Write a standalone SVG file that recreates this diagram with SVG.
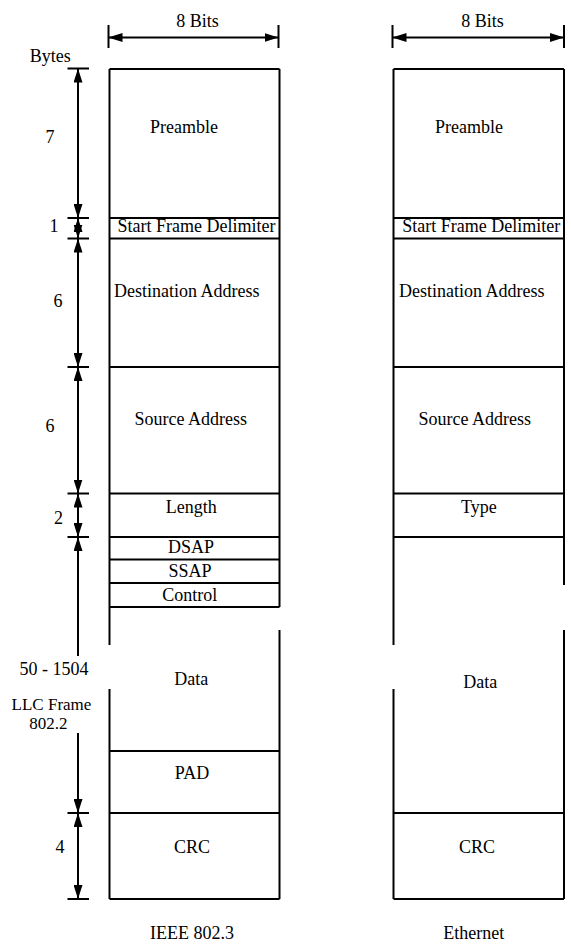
<svg xmlns="http://www.w3.org/2000/svg" width="571" height="951" viewBox="0 0 571 951">
<style>
text{font-family:"Liberation Serif","Times New Roman",serif;font-size:18px;fill:#000;text-anchor:middle}
.sm{font-size:17px}
.ln{stroke:#000;stroke-width:2;fill:none}
.dim{stroke:#000;stroke-width:2;fill:none;marker-start:url(#ah);marker-end:url(#ah)}
.dimS{stroke:#000;stroke-width:2;fill:none;marker-start:url(#ah)}
.dimE{stroke:#000;stroke-width:2;fill:none;marker-end:url(#ah)}
</style>
<defs>
<marker id="ah" viewBox="0 0 14 9" refX="14" refY="4.5" markerWidth="14" markerHeight="9" markerUnits="userSpaceOnUse" orient="auto-start-reverse">
<path d="M0,0 L14,4.5 L0,9 z" fill="#000"/>
</marker>
</defs>
<rect width="571" height="951" fill="#fff"/>

<!-- Left frame: IEEE 802.3 -->
<g id="ieee-frame">
<path class="ln" d="M109.5,69 V645 M109.5,689 V899 M279.5,69 V607 M279.5,630 V899"/>
<path class="ln" d="M109.5,69 H279.5 M109.5,218 H279.5 M109.5,238.5 H279.5 M109.5,367 H279.5 M109.5,493.5 H279.5 M109.5,537 H279.5 M109.5,559.5 H279.5 M109.5,583 H279.5 M109.5,607 H279.5 M109.5,751 H279.5 M109.5,813 H279.5 M109.5,899 H279.5"/>
</g>
<g id="ieee-preamble"><text x="184" y="133">Preamble</text></g>
<g id="ieee-sfd"><text x="196.5" y="231.5">Start Frame Delimiter</text></g>
<g id="ieee-dest"><text x="186.7" y="297">Destination Address</text></g>
<g id="ieee-src"><text x="190.8" y="425">Source Address</text></g>
<g id="ieee-length"><text x="191.3" y="512.5">Length</text></g>
<g id="ieee-dsap"><text x="191" y="552.5">DSAP</text></g>
<g id="ieee-ssap"><text x="190" y="576.5">SSAP</text></g>
<g id="ieee-control"><text x="189.7" y="600.5">Control</text></g>
<g id="ieee-data"><text x="191.3" y="685">Data</text></g>
<g id="ieee-pad"><text x="192" y="779">PAD</text></g>
<g id="ieee-crc"><text x="192" y="853">CRC</text></g>
<g id="ieee-label"><text x="192" y="939">IEEE 802.3</text></g>

<!-- Right frame: Ethernet -->
<g id="eth-frame">
<path class="ln" d="M393.5,69 V645 M393.5,689 V899 M564,69 V585 M564,630 V899"/>
<path class="ln" d="M393.5,69 H564 M393.5,218 H564 M393.5,238.5 H564 M393.5,367 H564 M393.5,493.5 H564 M393.5,537 H564 M393.5,813 H564 M393.5,899 H564"/>
</g>
<g id="eth-preamble"><text x="469" y="133">Preamble</text></g>
<g id="eth-sfd"><text x="481.2" y="231.5">Start Frame Delimiter</text></g>
<g id="eth-dest"><text x="471.7" y="297">Destination Address</text></g>
<g id="eth-src"><text x="474.8" y="425">Source Address</text></g>
<g id="eth-type"><text x="478.8" y="512.5">Type</text></g>
<g id="eth-data"><text x="480.3" y="688">Data</text></g>
<g id="eth-crc"><text x="477" y="853">CRC</text></g>
<g id="eth-label"><text x="473.7" y="939">Ethernet</text></g>

<!-- Dimension labels -->
<g id="labels">
<text x="197.5" y="27">8 Bits</text>
<text x="482.5" y="27">8 Bits</text>
<text x="50.3" y="62">Bytes</text>
<text x="50" y="143">7</text>
<text x="54" y="231.5">1</text>
<text x="58" y="307">6</text>
<text x="50" y="432">6</text>
<text x="58.5" y="524">2</text>
<text x="54" y="675">50 - 1504</text>
<text class="sm" x="51.5" y="709.5">LLC Frame</text>
<text class="sm" x="48.3" y="728.5">802.2</text>
<text x="60" y="853">4</text>
</g>

<!-- Connectors (dimension lines) -->
<g id="connectors">
<path class="ln" d="M108.5,25 V48 M278.5,25 V48 M392.5,25 V48 M564,25 V48"/>
<path class="dim" d="M108.5,37.5 H278.5"/>
<path class="dim" d="M392.5,37.5 H564"/>
<path class="ln" d="M67.5,68.5 H89 M67.5,218 H89 M67.5,238.5 H89 M67.5,367 H89 M67.5,493.5 H89 M67.5,537 H89 M67.5,813 H89 M67.5,899 H89"/>
<path class="dim" d="M78,68.5 V218"/>
<path class="dim" d="M78,218 V238.5"/>
<path class="dim" d="M78,238.5 V367"/>
<path class="dim" d="M78,367 V493.5"/>
<path class="dim" d="M78,493.5 V537"/>
<path class="dimS" d="M78,537 V656"/>
<path class="dimE" d="M78,733 V813"/>
<path class="dim" d="M78,813 V899"/>
</g>
</svg>
